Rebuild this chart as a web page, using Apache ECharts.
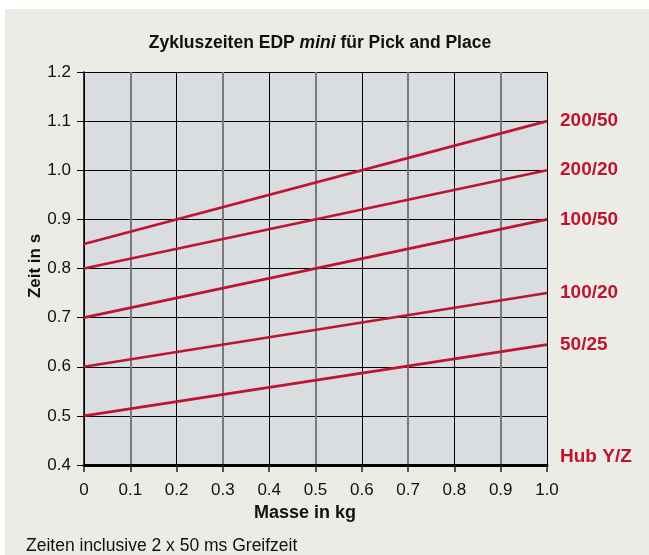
<!DOCTYPE html>
<html>
<head>
<meta charset="utf-8">
<script src="https://cdn.jsdelivr.net/npm/echarts@6/dist/echarts.min.js"></script>
<style>
  html, body { margin: 0; padding: 0; background: #fff; }
  #chart { width: 649px; height: 555px; }
</style>
</head>
<body>
<div id="chart"></div>
<script>
const masses = [0, 1.0];
const seriesNames = ["200/50", "200/20", "100/50", "100/20", "50/25"];
const seriesValues = [
  [0.85, 1.1],
  [0.8, 1.0],
  [0.7, 0.9],
  [0.6, 0.75],
  [0.5, 0.645],
];
const strokeLabel = "Hub Y/Z";

const font = '"Liberation Sans", Arial, sans-serif';
const red = "#bd1531";

const chart = echarts.init(document.getElementById("chart"));

const seriesArr = seriesNames.map((name, i) => {
  return {
    name: name,
    type: "line",
    data: masses.map((m, j) => [m, seriesValues[i][j]]),
    symbol: "none",
    lineStyle: { color: red, width: 2.6 },
    endLabel: {
      show: true,
      formatter: name,
      color: red,
      fontFamily: font,
      fontWeight: "bold",
      fontSize: 19,
      distance: 13,
    },
    z: 5,
  };
});

const option = {
  backgroundColor: "#ecebe6",
  animation: false,
  title: {
    text: "Zykluszeiten EDP {i|mini} für Pick and Place",
    left: 315,
    textAlign: "center",
    top: 29,
    textStyle: {
      fontFamily: font,
      fontWeight: "bold",
      fontSize: 17.5,
      color: "#111",
      rich: {
        i: { fontFamily: font, fontWeight: "bold", fontStyle: "italic", fontSize: 17.5, color: "#111" },
      },
    },
  },
  grid: {
    left: 84,
    right: 102,
    top: 72,
    bottom: 90,
    show: true,
    backgroundColor: "#dadddf",
    borderWidth: 0,
  },
  xAxis: [
    {
      type: "value",
      min: 0,
      max: 1,
      interval: 0.1,
      axisLine: { show: true, lineStyle: { color: "#000", width: 3 } },
      axisTick: { show: true, length: 7, lineStyle: { color: "#222", width: 1.5 } },
      axisLabel: {
        fontFamily: font,
        fontSize: 17,
        color: "#111",
        margin: 17,
        formatter: (v) => (v === 0 ? "0" : v.toFixed(1)),
      },
      splitLine: { show: true, lineStyle: { color: ["#000", "rgba(0,0,0,0)"], width: 1 } },
    },
    {
      type: "value",
      min: 0,
      max: 1,
      interval: 0.1,
      position: "bottom",
      axisLine: { show: false },
      axisTick: { show: false },
      axisLabel: { show: false },
      splitLine: { show: true, lineStyle: { color: ["rgba(0,0,0,0)", "#7a7a7a"], width: 2 } },
    },
  ],
  yAxis: {
    type: "value",
    min: 0.4,
    max: 1.2,
    interval: 0.1,
    axisLine: { show: true, lineStyle: { color: "#000", width: 1.5 } },
    axisTick: { show: true, length: 7, lineStyle: { color: "#000", width: 1 } },
    axisLabel: {
      fontFamily: font,
      fontSize: 17,
      color: "#111",
      margin: 13,
      formatter: (v) => v.toFixed(1),
    },
    splitLine: { show: true, lineStyle: { color: "#000", width: 1 } },
  },
  graphic: [
    { type: "rect", left: 0, top: 0, shape: { width: 649, height: 9 }, style: { fill: "#fff" }, z: -1 },
    { type: "rect", left: 0, top: 0, shape: { width: 5, height: 555 }, style: { fill: "#fff" }, z: -1 },
    {
      type: "text",
      x: 35,
      y: 266,
      rotation: Math.PI / 2,
      style: {
        text: "Zeit in s",
        fill: "#111",
        font: "bold 17px " + font,
        align: "center",
        verticalAlign: "middle",
      },
    },
    {
      type: "text",
      left: 560,
      top: 447,
      style: { text: strokeLabel, fill: red, font: "bold 19px " + font },
    },
    {
      type: "text",
      x: 305,
      y: 513,
      style: {
        text: "Masse in kg",
        fill: "#111",
        font: "bold 18px " + font,
        align: "center",
        verticalAlign: "middle",
      },
    },
    {
      type: "text",
      left: 26,
      top: 537,
      style: { text: "Zeiten inclusive 2 x 50 ms Greifzeit", fill: "#111", font: "17.5px " + font },
    },
  ],
  series: seriesArr,
};

chart.setOption(option);
</script>
</body>
</html>
